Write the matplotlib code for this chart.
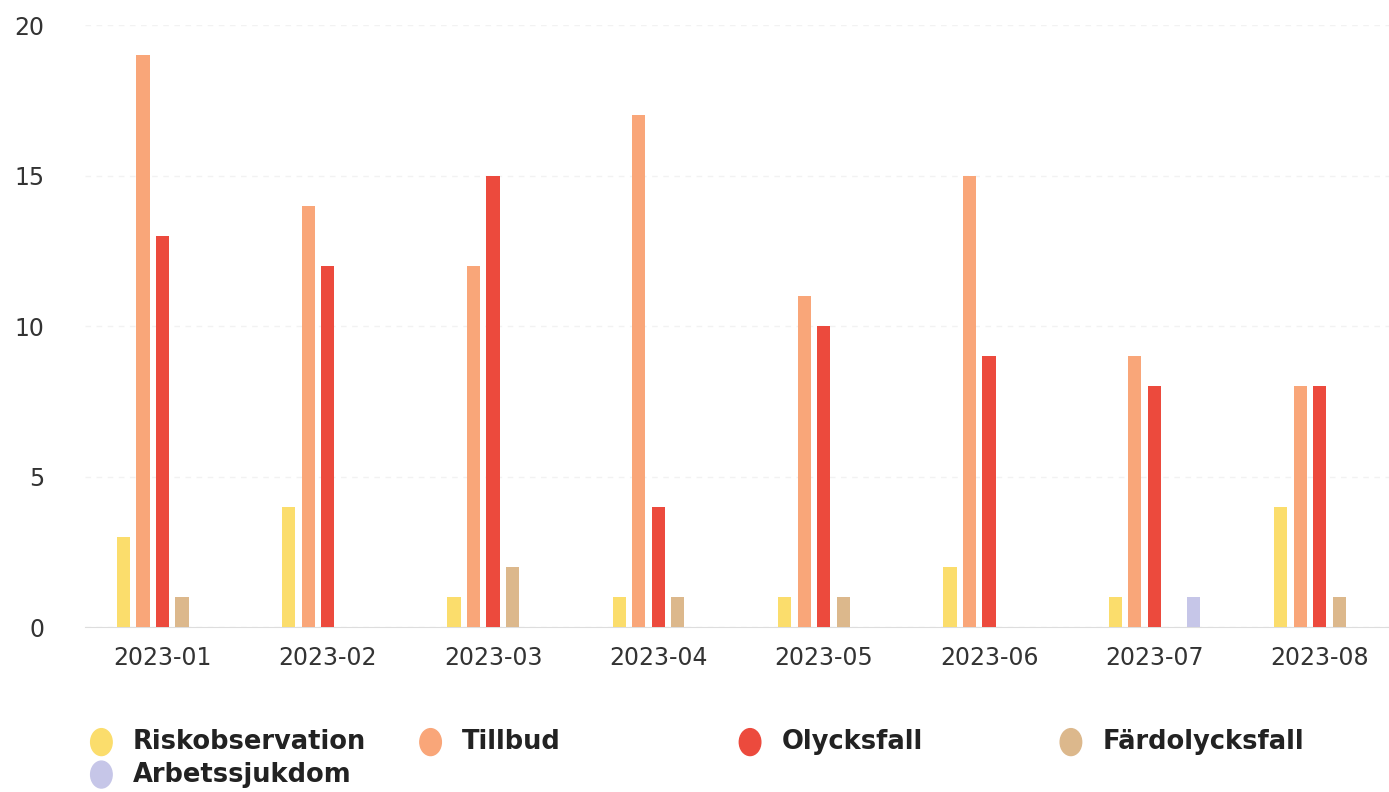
import matplotlib
matplotlib.use("Agg")
import matplotlib.pyplot as plt
import numpy as np

months = ["2023-01", "2023-02", "2023-03", "2023-04",
          "2023-05", "2023-06", "2023-07", "2023-08"]
series = ["Riskobservation", "Tillbud", "Olycksfall", "Färdolycksfall", "Arbetssjukdom"]
riskobservation = [3, 4, 1, 1, 1, 2, 1, 4]
tillbud = [19, 14, 12, 17, 11, 15, 9, 8]
olycksfall = [13, 12, 15, 4, 10, 9, 8, 8]
fardolycksfall = [1, 0, 2, 1, 1, 0, 0, 1]
arbetssjukdom = [0, 0, 0, 0, 0, 0, 1, 0]
values = [riskobservation, tillbud, olycksfall, fardolycksfall, arbetssjukdom]
colors = ["#fbdd6c", "#f9a679", "#ec4a3d", "#dcb88c", "#c6c6e8"]

fig = plt.figure(figsize=(13.89, 7.92), dpi=100)
ax = fig.add_axes([0.061, 0.2083, 0.945, 0.7601])

x = np.arange(len(months))
slot = 0.118
width = 0.08
for k, (name, vals, col) in enumerate(zip(series, values, colors)):
    ax.bar(x + (k - 2) * slot, vals, width, color=col, label=name, zorder=3)

ax.set_ylim(0, 20)
ax.set_xlim(-0.47, 7.47)
ax.set_yticks([0, 5, 10, 15, 20])
ax.set_xticks(x)
ax.set_xticklabels(months)
ax.tick_params(axis="both", length=0, labelsize=17, colors="#333333")
ax.tick_params(axis="y", pad=29)
ax.tick_params(axis="x", pad=14)
for lab in ax.get_xticklabels():
    lab.set_fontstretch("expanded")
for s in ["top", "right", "left"]:
    ax.spines[s].set_visible(False)
ax.spines["bottom"].set_color("#dddddd")
ax.yaxis.grid(True, color="#f2f2f2", linestyle=(0, (4, 4)), linewidth=1, zorder=0)

# manual legend laid out like the original
leg_x = [0.073, 0.310, 0.540, 0.771, 0.073]
leg_y = [0.063, 0.063, 0.063, 0.063, 0.022]
for name, col, lx, ly in zip(series, colors, leg_x, leg_y):
    fig.patches.append(matplotlib.patches.Ellipse((lx, ly), 0.0155, 0.034,
                       transform=fig.transFigure, color=col, figure=fig))
    fig.text(lx + 0.0225, ly, name, fontsize=18.5, fontweight="bold",
             color="#222222", va="center", ha="left")

fig.savefig("out.png", dpi=100)
